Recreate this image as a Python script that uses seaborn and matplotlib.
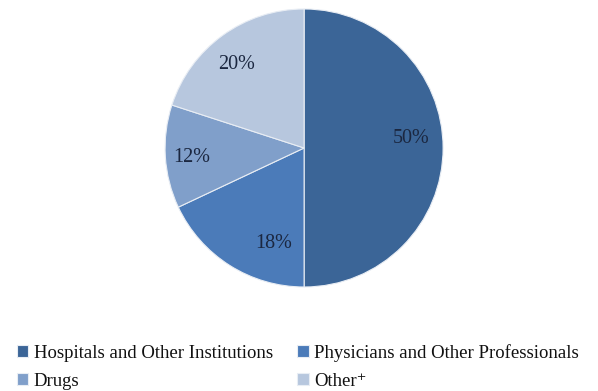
import matplotlib
matplotlib.use("Agg")
import matplotlib.pyplot as plt
import seaborn as sns
import numpy as np

categories = ["Hospitals and Other Institutions", "Physicians and Other Professionals",
              "Drugs", "Other\u207a"]
shares = [50, 18, 12, 20]
colors = ["#3B6597", "#4B7BB9", "#809FCA", "#B7C7DE"]

# label placement (angle in degrees, radius fraction) for each slice
label_polar = [(5, 0.77), (-108, 0.72), (-175, 0.81), (129, 0.77)]

sns.set_theme(style="white")
plt.rcParams["font.family"] = ["Liberation Serif", "DejaVu Serif"]
palette = sns.color_palette(colors)

fig = plt.figure(figsize=(5.98, 3.91), dpi=100)
ax = fig.add_axes([0.276, 0.266, 0.465, 0.711])

wedges, _, autotexts = ax.pie(
    shares, colors=palette, startangle=90, counterclock=False,
    autopct=lambda p: f"{p:.0f}%", pctdistance=0.77,
    wedgeprops=dict(edgecolor="#e8edf4", linewidth=0.8),
    textprops=dict(fontsize=14.5, color="#1b2740"),
)
for t, (ang, r) in zip(autotexts, label_polar):
    a = np.deg2rad(ang)
    t.set_position((r * np.cos(a), r * np.sin(a)))
ax.set_xlim(-1, 1)
ax.set_ylim(-1, 1)
ax.set_aspect("equal")

# fill the two legend columns row by row
order = [0, 2, 1, 3]
fig.legend([wedges[i] for i in order], [categories[i] for i in order],
           loc="lower left", bbox_to_anchor=(0.0, -0.04),
           ncol=2, frameon=False, fontsize=13.5, handlelength=0.6, handleheight=0.6,
           handletextpad=0.3, columnspacing=1.3, labelspacing=0.6,
           labelcolor="#111111")

fig.savefig("out.png", dpi=100, facecolor="white")
